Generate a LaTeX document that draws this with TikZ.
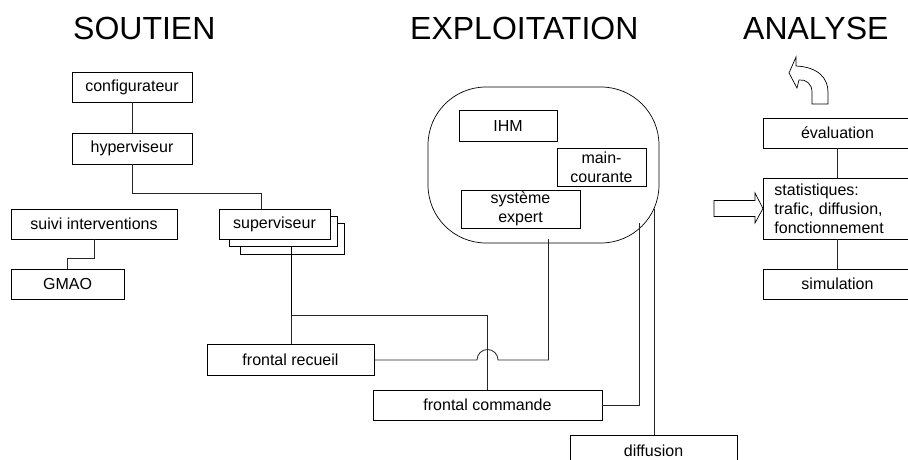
\documentclass[tikz,border=0pt]{standalone}
\usepackage{fontspec}
\setmainfont{Liberation Sans}
\tikzset{
  px/.style={x=1pt,y=-1pt},
  bx/.style={draw=black,line width=0.8pt,fill=white,inner sep=0pt,font=\fontsize{16}{19}\selectfont,align=center},
  ttl/.style={font=\fontsize{32}{36}\selectfont,inner sep=0pt,anchor=base west},
  cn/.style={draw=black!85,line width=0.8pt},
}
\newcommand{\bxat}[6]{\node[bx,minimum width=#4pt-#3pt,minimum height=#6pt-#5pt] (#1) at ({(#3+#4)/2},{(#5+#6)/2}) {#2};}
\begin{document}
\begin{tikzpicture}[px]
\useasboundingbox (0,0) rectangle (908,460);
\clip (0,0) rectangle (908,460);
\node[ttl] (t1) at (73,40) {SOUTIEN};
\node[ttl] (t2) at (410,40) {EXPLOITATION};
\node[ttl] (t3) at (743,40) {ANALYSE};
% exploitation blob
\node[draw=black,line width=0.7pt,rounded corners=58pt,minimum width=231pt,minimum height=156pt,inner sep=0pt] (blob) at (543.5,165) {};
% stacked superviseur
\draw[bx] (240,223.5) rectangle (344,254);
\draw[bx] (229,216) rectangle (337,246.5);
\bxat{conf}{configurateur}{72}{192}{72}{102}
\bxat{hyp}{hyperviseur}{72}{192}{133}{164}
\bxat{suivi}{suivi interventions}{11}{177}{209}{239}
\bxat{gmao}{GMAO}{11}{124}{269}{299}
\bxat{sup}{superviseur}{219}{330}{209}{239}
\bxat{ihm}{IHM}{459}{557}{110}{141}
\bxat{main}{main-\\courante}{557}{646}{148}{186}
\bxat{sys}{système\\expert}{461}{580}{190}{228}
\bxat{fr}{frontal recueil}{207}{374}{344}{375}
\bxat{fc}{frontal commande}{373}{602}{390}{420}
\bxat{diff}{diffusion}{570}{737}{435}{466}
\bxat{eval}{évaluation}{763}{912}{118}{148}
\node[bx,minimum width=149pt,minimum height=61pt,text width=138pt,align=left,anchor=north west,inner xsep=11pt] (stat) at (763,178) {statistiques:\\trafic, diffusion,\\fonctionnement};
\bxat{sim}{simulation}{763}{912}{269}{299}
% connectors
\draw[cn] (conf.south) -- (hyp.north);
\coordinate (h1) at (132,193);
\coordinate (h2) at (261,193);
\draw[cn] (hyp.south) -- (h1) -- (h2) -- (h2 |- sup.north);
\coordinate (s1) at (94,258);
\coordinate (s2) at (67,258);
\draw[cn] (s1 |- suivi.south) -- (s1) -- (s2) -- (s2 |- gmao.north);
\coordinate (j) at (291,315);
\draw[draw=black,line width=1pt] (291,246.5) -- (j);
\draw[cn] (j) -- (j |- fr.north);
\coordinate (c1) at (487,315);
\draw[cn] (j) -- (c1) -- (c1 |- fc.north);
\coordinate (a1) at (477,360);
\coordinate (e1) at (548.5,360);
\coordinate (e1t) at (548.5,239);
\draw[cn] (fr.east |- a1) -- (a1) arc[start angle=180,end angle=360,radius=10.5] -- (e1) -- (e1t);
\coordinate (e2) at (639,405);
\coordinate (e2t) at (639,223);
\draw[cn] (fc.east |- e2) -- (e2) -- (e2t);
\coordinate (e3) at (654,209);
\draw[cn] (e3) -- (e3 |- diff.north);
\draw[cn] (837,148) -- (837,178);
\draw[cn] (837,239) -- (837,269);
% block arrow
\draw[draw=black,line width=0.7pt,fill=white] (714,200.5) -- (755,200.5) -- (755,193) -- (763,208.5) -- (755,223) -- (755,216.5) -- (714,216.5) -- cycle;
% curved arrow
\draw[draw=black,line width=0.7pt,fill=white] (812,104) -- (828,104) -- (828,92) .. controls (828,78) and (818,67) .. (796,66) -- (796,57) -- (789,73) -- (797,88) -- (799,80) .. controls (806,79) and (812,84) .. (812,92) -- cycle;
\end{tikzpicture}
\end{document}
